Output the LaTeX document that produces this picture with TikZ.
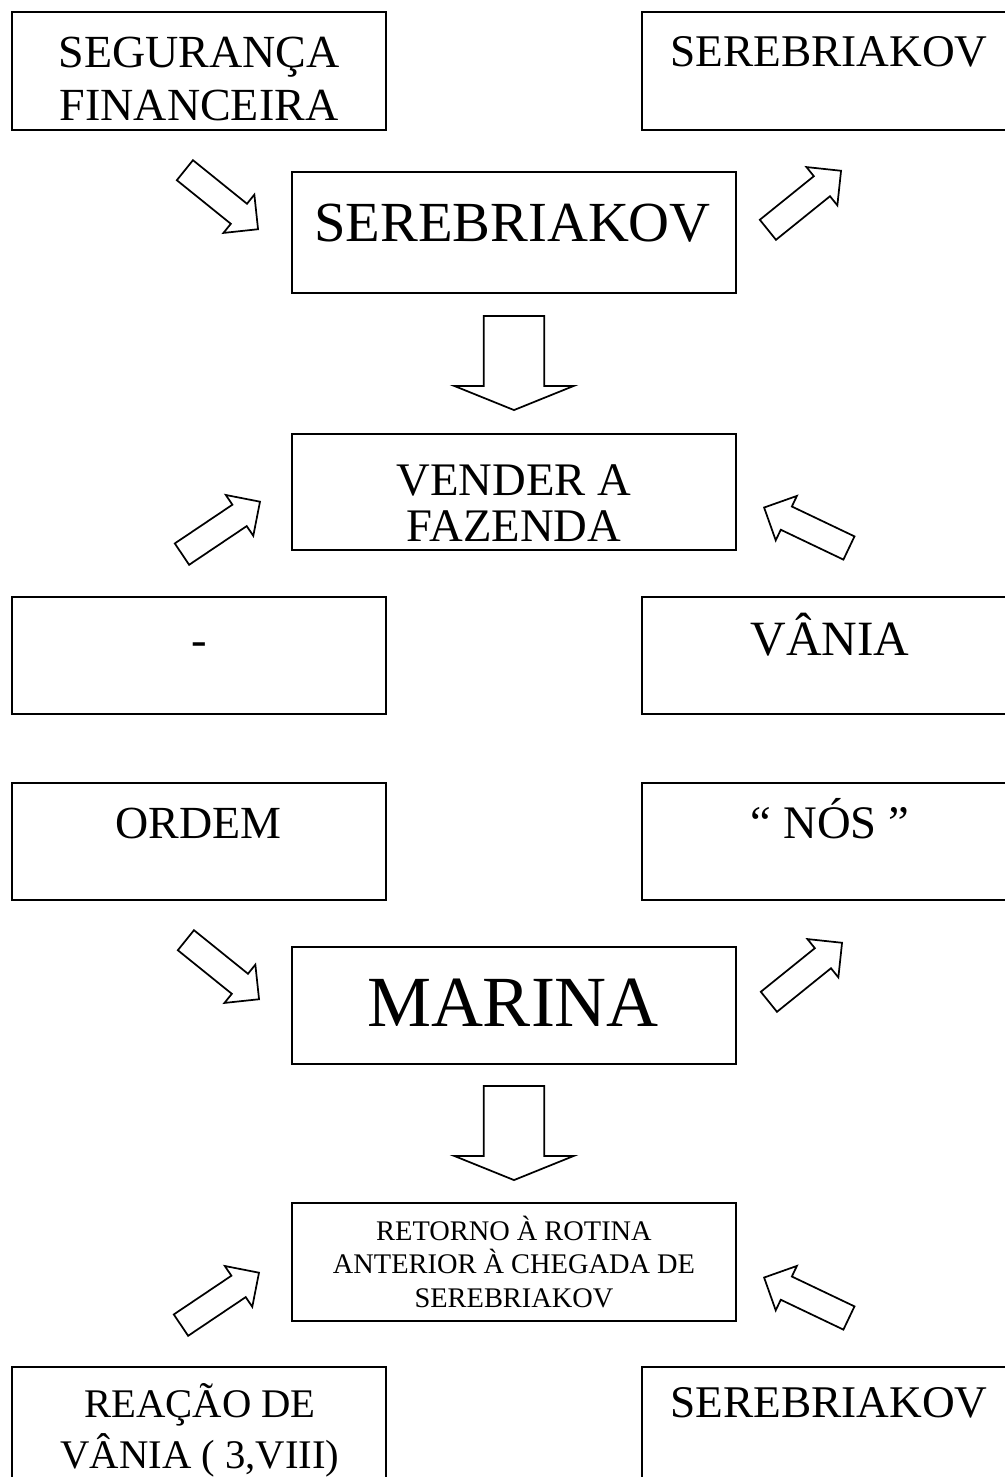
\documentclass[tikz,border=0pt]{standalone}
\usepackage{fontspec}
\setmainfont{Liberation Serif}
\usetikzlibrary{shapes.arrows}

\tikzset{
  caixa/.style={draw, line width=1.4pt, inner sep=0pt, minimum width=280.5pt, minimum height=88pt},
  caixameio/.style={caixa, minimum width=333pt},
  texto/.style={inner sep=0pt, anchor=base, align=center},
  seta/.style={single arrow, draw, line width=1.3pt, anchor=tip, inner xsep=0pt, inner ysep=9pt, minimum height=70.5pt, single arrow head extend=8.8pt, single arrow head indent=0pt},
  setabaixo/.style={seta, inner ysep=22.1pt, single arrow head extend=22.1pt, single arrow tip angle=136, rotate=-90}
}

\begin{document}
\begin{tikzpicture}[x=0.75pt,y=0.75pt,yscale=-1]
        \useasboundingbox (0,0) rectangle (1005,1477);
        \clip (0,0) rectangle (1005,1477);

        %Shape: Rectangle
        \node[caixa] (seg) at (199,71) {};
        \node[caixa] (serTop) at (829,71) {};
        \node[caixameio, minimum height=90.75pt] (serMid) at (514,232.5) {};
        \node[caixameio, minimum height=87pt] (vender) at (514,492) {};
        \node[caixa] (traco) at (199,655.5) {};
        \node[caixa] (vania) at (829,655.5) {};
        \node[caixa] (ordem) at (199,841.5) {};
        \node[caixa] (nos) at (829,841.5) {};
        \node[caixameio] (marina) at (514,1005.5) {};
        \node[caixameio] (retorno) at (514,1262) {};
        \node[caixa] (reacao) at (199,1425.7) {};
        \node[caixa] (serBot) at (829,1425.7) {};

        %Shape: Arrows (placed by their tips)
        \node[seta, rotate=-38.9] (setaSeg) at (259,230) {};
        \node[seta, rotate=38.9] (setaSerTop) at (842,170) {};
        \node[setabaixo] (setaVender) at (514,411) {};
        \node[seta, rotate=33.9] (setaTraco) at (261,501) {};
        \node[seta, rotate=154.5] (setaVania) at (763,507) {};
        \node[seta, rotate=-38.9] (setaOrdem) at (260,1000) {};
        \node[seta, rotate=38.9] (setaNos) at (843,942) {};
        \node[setabaixo] (setaRetorno) at (514,1181) {};
        \node[seta, rotate=33.9] (setaReacao) at (260,1272) {};
        \node[seta, rotate=154.5] (setaSerBot) at (763,1277) {};

        % Text Node (base = last line)
        \node[texto, font=\fontsize{34.5pt}{39.75pt}\selectfont] (segTxt) at (199,120) {SEGURANÇA\\FINANCEIRA};
        % Text Node
        \node[texto, font=\fontsize{34pt}{40pt}\selectfont] (serTopTxt) at (829,67) {SEREBRIAKOV};
        % Text Node
        \node[texto, font=\fontsize{42.5pt}{50pt}\selectfont] (serMidTxt) at (512.5,241) {SEREBRIAKOV};
        % Text Node
        \node[texto, font=\fontsize{35pt}{34.5pt}\selectfont] (venderTxt) at (514,541) {VENDER A\\FAZENDA};
        % Text Node
        \node[texto, font=\fontsize{35pt}{40pt}\selectfont] (tracoTxt) at (199,655) {-};
        % Text Node
        \node[texto, font=\fontsize{37pt}{42pt}\selectfont] (vaniaTxt) at (830,655) {VÂNIA};
        % Text Node
        \node[texto, font=\fontsize{34.5pt}{40pt}\selectfont] (ordemTxt) at (198.5,838) {ORDEM};
        % Text Node
        \node[texto, font=\fontsize{35pt}{40pt}\selectfont] (nosTxt) at (830,838) {“ NÓS ”};
        % Text Node
        \node[texto, font=\fontsize{54pt}{60pt}\selectfont] (marinaTxt) at (513,1026) {MARINA};
        % Text Node
        \node[texto, font=\fontsize{21.3pt}{25.1pt}\selectfont] (retornoTxt) at (514,1307) {RETORNO À ROTINA\\ANTERIOR À CHEGADA DE\\SEREBRIAKOV};
        % Text Node
        \node[texto, font=\fontsize{30.5pt}{38.25pt}\selectfont] (reacaoTxt) at (200,1468) {REAÇÃO DE\\VÂNIA ( 3,VIII)};
        % Text Node
        \node[texto, font=\fontsize{34pt}{40pt}\selectfont] (serBotTxt) at (829,1417) {SEREBRIAKOV};

\end{tikzpicture}
\end{document}
